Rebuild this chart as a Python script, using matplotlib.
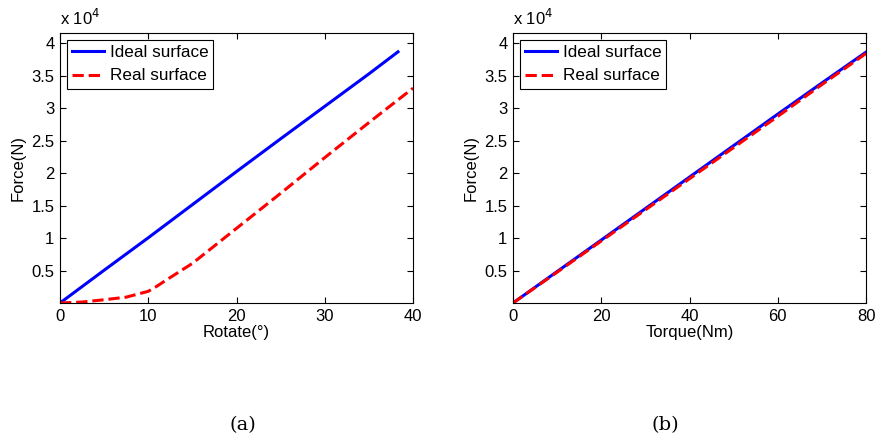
import numpy as np
import matplotlib
matplotlib.use('Agg')
import matplotlib.pyplot as plt

# panel (a): force vs rotate angle
rotate_ideal = [0, 5, 10, 15, 20, 25, 30, 35, 38.3]
force_ideal_a = [0, 5050, 10050, 15150, 20250, 25300, 30300, 35300, 38700]
rotate_real = [0, 2.5, 5, 7.5, 10, 11, 12, 15, 20, 25, 30, 35, 40]
force_real_a = [0, 150, 500, 900, 1800, 2600, 3500, 6100, 11500, 16900, 22400, 27800, 33100]

# panel (b): force vs torque
torque = [0, 10, 20, 30, 40, 50, 60, 70, 80]
force_ideal_b = [0, 4850, 9700, 14550, 19400, 24250, 29100, 33900, 38650]
force_real_b = [0, 4750, 9550, 14350, 19150, 23950, 28750, 33650, 38450]

y_ticks = [5000, 10000, 15000, 20000, 25000, 30000, 35000, 40000]
y_labels = ['0.5', '1', '1.5', '2', '2.5', '3', '3.5', '4']

plt.rcParams['font.family'] = ['Liberation Sans', 'DejaVu Sans']

fig = plt.figure(figsize=(8.79, 4.41), dpi=100)
W, H = 879, 441
ax_a = fig.add_axes([60 / W, 1 - 303 / H, 353 / W, 270 / H])
ax_b = fig.add_axes([513 / W, 1 - 303 / H, 353 / W, 270 / H])


def style_axes(ax, xlim, xticks, xlabel):
    ax.set_xlim(*xlim)
    ax.set_ylim(0, 41600)
    ax.set_xticks(xticks)
    ax.set_yticks(y_ticks)
    ax.set_yticklabels(y_labels)
    ax.tick_params(direction='in', top=True, right=True, length=4,
                   labelsize=12, pad=4)
    ax.set_xlabel(xlabel, fontsize=12, labelpad=1)
    ax.set_ylabel('Force(N)', fontsize=12, labelpad=4)
    for s in ax.spines.values():
        s.set_linewidth(0.8)
    ax.text(0.0, 1.02, r'x 10$^4$', transform=ax.transAxes, fontsize=12,
            ha='left', va='bottom')
    leg = ax.legend(loc='upper left', fontsize=12.3, fancybox=False,
                    framealpha=1, edgecolor='black', handlelength=1.9,
                    borderaxespad=0.4, borderpad=0.3, handletextpad=0.3,
                    labelspacing=0.5)
    leg.get_frame().set_linewidth(0.8)


ax_a.plot(rotate_ideal, force_ideal_a, color='#0000ff', lw=2.2,
          label='Ideal surface')
ax_a.plot(rotate_real, force_real_a, color='#ff0000', lw=2.2, ls='--',
          label='Real surface')
style_axes(ax_a, (0, 40), [0, 10, 20, 30, 40], 'Rotate(°)')

ax_b.plot(torque, force_ideal_b, color='#0000ff', lw=2.2,
          label='Ideal surface')
ax_b.plot(torque, force_real_b, color='#ff0000', lw=2.2, ls='--',
          label='Real surface')
style_axes(ax_b, (0, 80), [0, 20, 40, 60, 80], 'Torque(Nm)')

fig.text(243 / W, 1 - 425 / H, '(a)', family='DejaVu Serif', fontsize=14,
         ha='center', va='center')
fig.text(665 / W, 1 - 425 / H, '(b)', family='DejaVu Serif', fontsize=14,
         ha='center', va='center')

fig.savefig('out.png', dpi=100)
